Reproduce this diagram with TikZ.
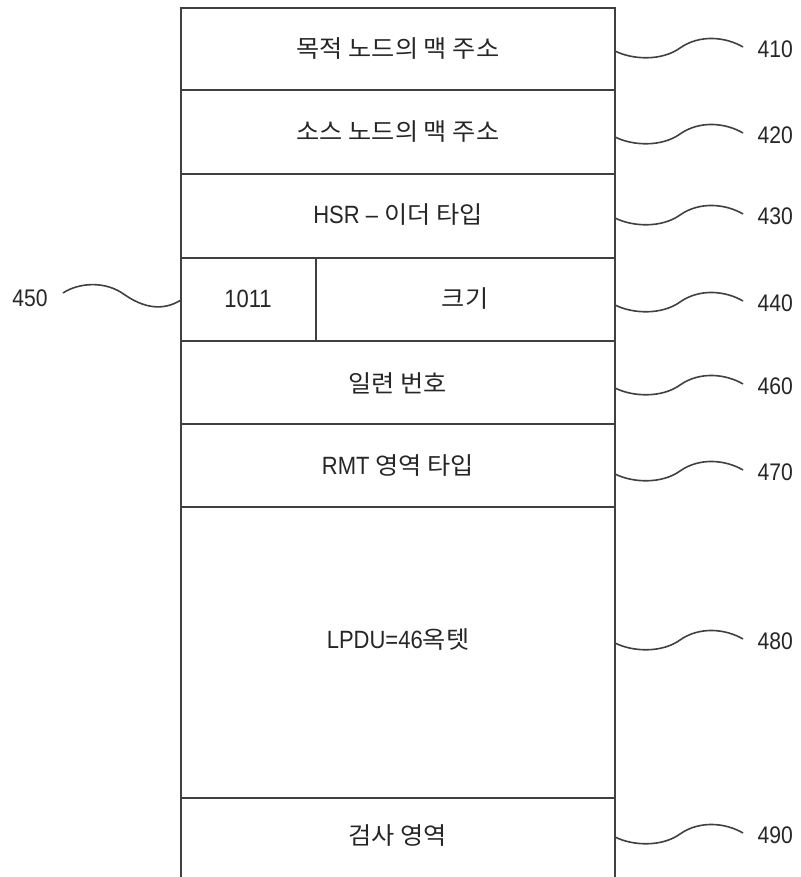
\documentclass[tikz,border=0pt]{standalone}
\usepackage{fontspec}
\setmainfont{Liberation Sans}[FakeStretch=0.88]
\newfontfamily\kr{Noto Sans CJK KR}[Scale=0.96,FakeStretch=1.05]
\begin{document}
\begin{tikzpicture}[x=1pt,y=-1pt,
  frame/.style={draw=black!75,line width=1.8pt},
  celltext/.style={font=\fontsize{25}{28}\selectfont,text=black!85},
  reflabel/.style={font=\fontsize{24}{28}\selectfont,text=black!85},
  leader/.style={draw=black!75,line width=1.6pt}]
\useasboundingbox (0,0) rectangle (800,877);
% frame
\draw[frame] (181,877) -- (181,8) -- (615,8) -- (615,877);
\foreach \yy in {90,174,258,341,424,507,798}
  \draw[frame] (181,\yy) -- (615,\yy);
\draw[frame] (316,258) -- (316,341);
% cell texts
\node[celltext] (t1) at (398,49) {\kr 목적 노드의 맥 주소};
\node[celltext] (t2) at (398,132) {\kr 소스 노드의 맥 주소};
\node[celltext] (t3) at (398,215) {HSR – {\kr 이더 타입}};
\node[celltext] (t4a) at (248,299) {1011};
\node[celltext] (t4b) at (465,299) {\kr 크기};
\node[celltext] (t5) at (398,383) {\kr 일련 번호};
\node[celltext] (t6) at (398,466) {RMT {\kr 영역 타입}};
\node[celltext] (t7) at (398,640) {LPDU=46{\kr 옥텟}};
\node[celltext] (t8) at (398,836) {\kr 검사 영역};
% right labels with leaders
\foreach \lab/\ly in {410/48,420/134,430/215,440/302,460/385,470/471,480/640,490/834}{
  \coordinate (s\lab) at (615,\ly+3);
  \node[reflabel,anchor=west] (l\lab) at (754,\ly+1) {\lab};
  \draw[leader] (s\lab) .. controls (633,\ly+12) and (662,\ly+13) .. (680,\ly)
     .. controls (700,\ly-14) and (726,\ly-11) .. (743,\ly-1);
}
% left label 450
\node[reflabel] (l450) at (30,298) {450};
\coordinate (s450) at (181,300);
\draw[leader] (63,293) .. controls (78,283) and (105,280) .. (125,295)
  .. controls (150,312) and (168,308) .. (s450);
\end{tikzpicture}
\end{document}
